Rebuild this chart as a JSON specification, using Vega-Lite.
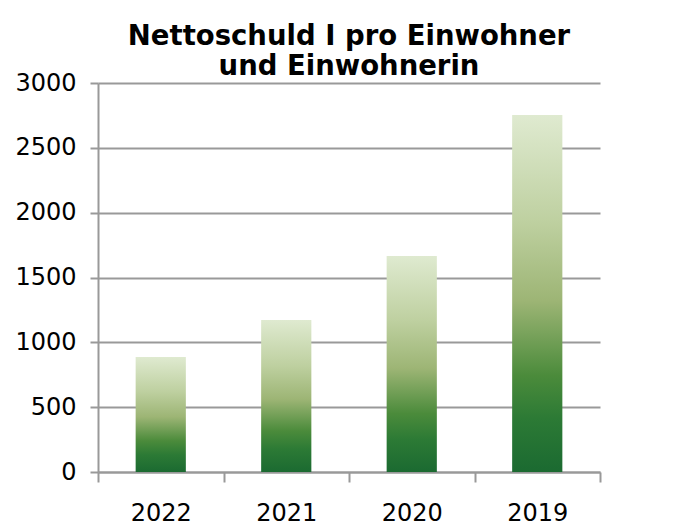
{
  "$schema": "https://vega.github.io/schema/vega-lite/v6.json",
  "autosize": {"type": "none"},
  "width": 502,
  "height": 389,
  "padding": {"left": 98, "top": 83, "right": 86, "bottom": 57},
  "background": "white",
  "title": {
    "text": ["Nettoschuld I pro Einwohner", "und Einwohnerin"],
    "font": "DejaVu Sans",
    "fontSize": 27.5,
    "fontWeight": "bold",
    "color": "black",
    "anchor": "middle",
    "offset": -9,
    "lineHeight": 30
  },
  "data": {
    "values": [
      {"jahr": "2022", "wert": 887},
      {"jahr": "2021", "wert": 1172},
      {"jahr": "2020", "wert": 1666},
      {"jahr": "2019", "wert": 2753}
    ]
  },
  "mark": {
    "type": "bar",
    "width": {"band": 0.4},
    "color": {
      "gradient": "linear",
      "x1": 0, "y1": 1, "x2": 0, "y2": 0,
      "stops": [
        {"offset": 0, "color": "#1b6a31"},
        {"offset": 0.15, "color": "#2c7a35"},
        {"offset": 0.27, "color": "#4b8b3b"},
        {"offset": 0.48, "color": "#9db575"},
        {"offset": 0.7, "color": "#bed0a0"},
        {"offset": 1, "color": "#dfead0"}
      ]
    }
  },
  "encoding": {
    "x": {
      "field": "jahr",
      "type": "nominal",
      "sort": null,
      "scale": {"paddingInner": 0, "paddingOuter": 0},
      "axis": {
        "title": null,
        "labelAngle": 0,
        "labelFont": "DejaVu Sans",
        "labelFontSize": 24,
        "labelColor": "black",
        "labelPadding": 19,
        "domainColor": "#999999",
        "domainWidth": 2,
        "tickColor": "#999999",
        "tickWidth": 2,
        "tickSize": 10,
        "tickBand": "extent",
        "grid": false
      }
    },
    "y": {
      "field": "wert",
      "type": "quantitative",
      "scale": {"domain": [0, 3000], "nice": false},
      "axis": {
        "title": null,
        "values": [0, 500, 1000, 1500, 2000, 2500, 3000],
        "format": "d",
        "labelFont": "DejaVu Sans",
        "labelFontSize": 24,
        "labelColor": "black",
        "labelPadding": 14,
        "domainColor": "#999999",
        "domainWidth": 2,
        "tickColor": "#999999",
        "tickWidth": 2,
        "tickSize": 8,
        "grid": true,
        "gridColor": "#999999",
        "gridWidth": 2
      }
    }
  },
  "config": {"view": {"stroke": null}}
}
